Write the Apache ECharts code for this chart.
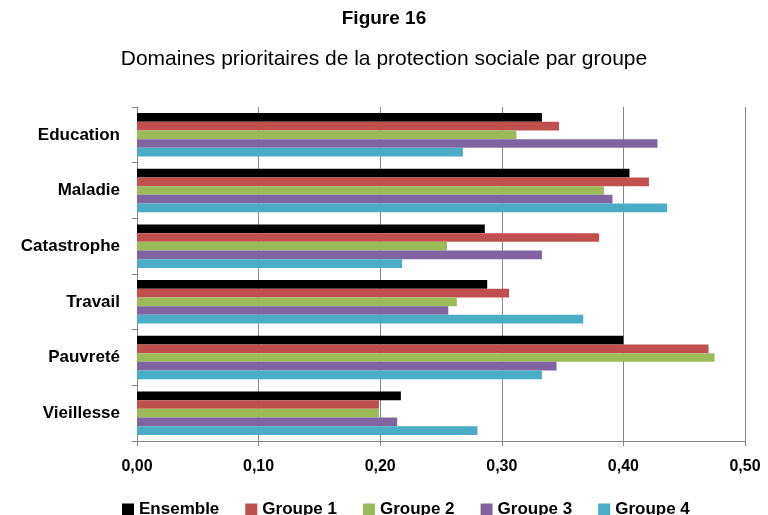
<!DOCTYPE html>
<html>
<head>
<meta charset="utf-8">
<script src="https://cdn.jsdelivr.net/npm/echarts@6/dist/echarts.min.js"></script>
<style>
  html, body { margin: 0; padding: 0; background: #fff; }
  #chart { width: 768px; height: 515px; }
</style>
</head>
<body>
<div id="chart"></div>
<script>
// categories from top to bottom
const categories = ['Education', 'Maladie', 'Catastrophe', 'Travail', 'Pauvreté', 'Vieillesse'];
const seriesNames = ['Ensemble', 'Groupe 1', 'Groupe 2', 'Groupe 3', 'Groupe 4'];
const ensemble = [0.333, 0.405, 0.286, 0.288, 0.400, 0.217];
const groupe1 = [0.347, 0.421, 0.380, 0.306, 0.470, 0.199];
const groupe2 = [0.312, 0.384, 0.255, 0.263, 0.475, 0.199];
const groupe3 = [0.428, 0.391, 0.333, 0.256, 0.345, 0.214];
const groupe4 = [0.268, 0.436, 0.218, 0.367, 0.333, 0.280];
const colors = ['#000000', '#C0504D', '#9BBB59', '#8064A2', '#4BACC6'];

const font = 'Liberation Sans, Arial, sans-serif';
const allData = [ensemble, groupe1, groupe2, groupe3, groupe4];

const chart = echarts.init(document.getElementById('chart'));
chart.setOption({
  backgroundColor: '#fff',
  animation: false,
  title: [
    {
      text: 'Figure 16',
      left: 'center',
      top: 4,
      textStyle: { fontFamily: font, fontSize: 19, fontWeight: 'bold', color: '#000' }
    },
    {
      text: 'Domaines prioritaires de la protection sociale par groupe',
      left: 'center',
      top: 44,
      textStyle: { fontFamily: font, fontSize: 21, fontWeight: 'normal', color: '#000' }
    }
  ],
  legend: {
    bottom: -8,
    left: 117,
    itemWidth: 12,
    itemHeight: 12,
    itemGap: 26,
    icon: 'rect',
    data: seriesNames,
    textStyle: { fontFamily: font, fontSize: 17, fontWeight: 'bold', color: '#000' }
  },
  grid: { left: 137, right: 23, top: 107, bottom: 74 },
  xAxis: {
    type: 'value',
    min: 0,
    max: 0.5,
    interval: 0.1,
    axisLine: { show: true, lineStyle: { color: '#868686' } },
    axisTick: { show: true, length: 5, lineStyle: { color: '#868686' } },
    splitLine: { show: true, lineStyle: { color: '#868686', width: 1 } },
    axisLabel: {
      formatter: v => v.toFixed(2).replace('.', ','),
      fontFamily: font, fontSize: 16, fontWeight: 'bold', color: '#000', margin: 18
    }
  },
  yAxis: {
    type: 'category',
    inverse: true,
    data: categories,
    axisLine: { show: true, lineStyle: { color: '#868686' } },
    axisTick: { show: true, length: 5, lineStyle: { color: '#868686' } },
    axisLabel: { fontFamily: font, fontSize: 17, fontWeight: 'bold', color: '#000', margin: 17 }
  },
  series: seriesNames.map((name, i) => ({
    name: name,
    type: 'bar',
    data: allData[i],
    barGap: '0%',
    barCategoryGap: '22%',
    itemStyle: { color: colors[i] }
  }))
});
</script>
</body>
</html>
